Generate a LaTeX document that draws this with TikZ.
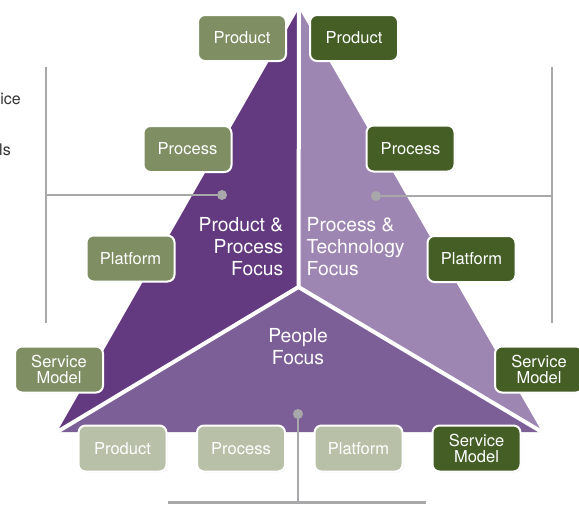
\documentclass[tikz,border=0pt]{standalone}
\usepackage{fontspec}
\setmainfont{TeX Gyre Heros}
\usetikzlibrary{shadows}
\definecolor{pdark}{HTML}{633A80}
\definecolor{plight}{HTML}{9E86B2}
\definecolor{pmid}{HTML}{7D5F98}
\definecolor{gmid}{HTML}{7F8F63}
\definecolor{gdark}{HTML}{445E26}
\definecolor{gpale}{HTML}{B8C1A8}
\definecolor{rule}{HTML}{A8A8AB}
\begin{document}
\begin{tikzpicture}[x=1pt,y=-1pt,line join=round,
	box/.style={draw=white,line width=2pt,rounded corners=7pt,minimum width=88pt,minimum height=46pt,inner sep=0pt,align=center,text=white,font=\fontsize{16.5}{15.5}\selectfont,drop shadow={opacity=.3,shadow xshift=.8pt,shadow yshift=-.8pt}},
	lbox/.style={box,fill=gmid},
	dbox/.style={box,fill=gdark},
	pbox/.style={box,fill=gpale},
	focus/.style={text=white,inner sep=0pt,font=\fontsize{19.3}{22}\selectfont},
	grey/.style={draw=rule,line width=2.5pt},
	dot/.style={circle,fill=rule,inner sep=0pt,minimum size=10pt}]
	\useasboundingbox (0,0) rectangle (579,504);
	% triangle in three parts
	\coordinate (top) at (299,8.5);
	\coordinate (lc) at (57,432);
	\coordinate (rc) at (542,432);
	\coordinate (mid) at (298.5,287);
	\fill[pdark] (top)--(lc)--(mid)--cycle;
	\fill[plight] (top)--(mid)--(rc)--cycle;
	\fill[pmid] (lc)--(rc)--(mid)--cycle;
	\draw[white,line width=4pt] (top)--(mid) (lc)--(mid)--(rc);
	% brackets
	\node[dot] (ldot) at (222,195) {};
	\node[dot] (rdot) at (376,196) {};
	\node[dot] (bdot) at (298,414) {};
	\coordinate (ltop) at (46,67); \coordinate (lbot) at (46,323); \coordinate (lmid) at (46,195);
	\coordinate (rtop) at (552,67); \coordinate (rbot) at (552,323); \coordinate (rmid) at (552,196);
	\coordinate (bbot) at (298,504); \coordinate (bl) at (168,502.5); \coordinate (br) at (426,502.5);
	\draw[grey] (ltop)--(lbot) (lmid)--(ldot);
	\draw[grey] (rtop)--(rbot) (rmid)--(rdot);
	\draw[grey] (bdot)--(bbot) (bl)--(br);
	% boxes
	\node[lbox] (lprod) at (242,38) {Product};
	\node[dbox] (rprod) at (354,38) {Product};
	\node[lbox] (lproc) at (187.5,149) {Process};
	\node[dbox] (rproc) at (410.5,148.5) {Process};
	\node[lbox] (lplat) at (130.5,258.5) {Platform};
	\node[dbox] (rplat) at (471.5,259) {Platform};
	\node[lbox] (lserv) at (59,369.5) {Service\\Model};
	\node[dbox] (rserv) at (539,369.5) {Service\\Model};
	\node[pbox] (bprod) at (122.5,448.5) {Product};
	\node[pbox] (bproc) at (241,448.5) {Process};
	\node[pbox] (bplat) at (358.5,448.5) {Platform};
	\node[dbox] (bserv) at (476.5,448.5) {Service\\Model};
	% focus labels
	\node[focus,anchor=base east,align=right] (lfocus) at (283.5,275) {Product \&\\Process\\Focus};
	\node[focus,anchor=base west,align=left] (rfocus) at (306.5,275) {Process \&\\Technology\\Focus};
	\node[focus,anchor=base,align=center] (bfocus) at (298,364) {People\\Focus};
	% cut-off side text
	\node[anchor=base east,inner sep=0pt,text=black!80,font=\fontsize{16}{19}\selectfont] (ltxta) at (21,104) {ice};
	\node[anchor=base east,inner sep=0pt,text=black!80,font=\fontsize{16}{19}\selectfont] (ltxtb) at (11,155) {ls};
\end{tikzpicture}
\end{document}
